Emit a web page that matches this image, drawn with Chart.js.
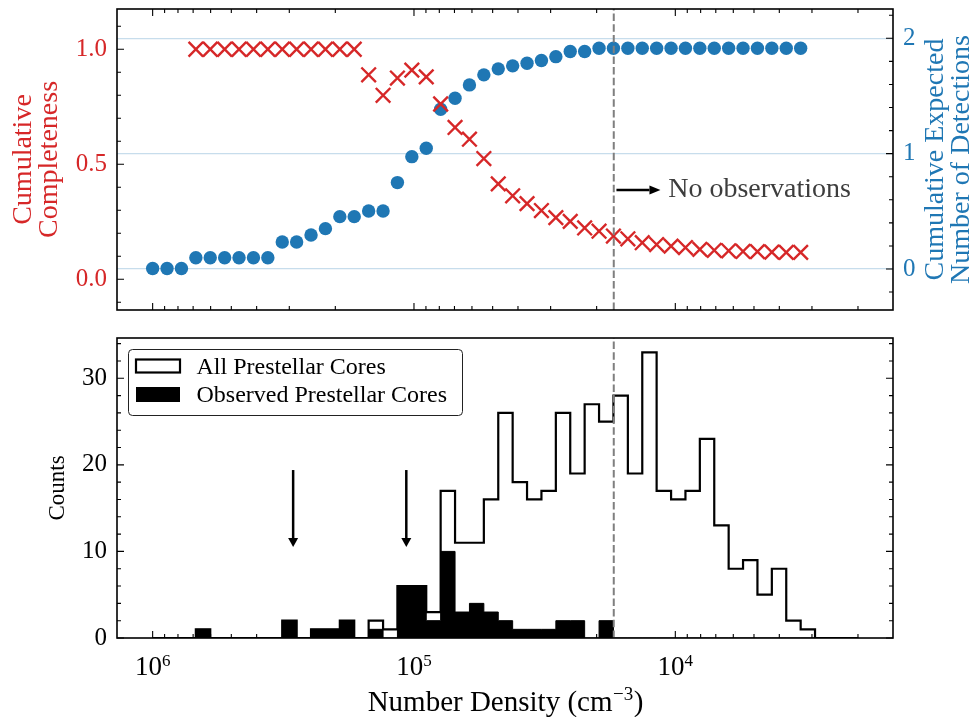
<!DOCTYPE html>
<html>
<head>
<meta charset="utf-8">
<title>Prestellar cores: completeness vs. number density</title>
<script src="https://cdn.jsdelivr.net/npm/chart.js@4.4.0/dist/chart.umd.min.js"></script>
<style>
  html, body { margin: 0; padding: 0; background: #fff; }
  #wrap { position: relative; width: 974px; height: 717px; overflow: hidden; }
  #wrap canvas { position: absolute; left: 0; }
  #topChart { top: 0; }
  #histChart { top: 325px; }
</style>
</head>
<body>
<div id="wrap">
  <canvas id="topChart" width="974" height="325"></canvas>
  <canvas id="histChart" width="974" height="392"></canvas>
</div>
<script>
// histogram bin edges in cm^-3, going from dense to diffuse
const binEdges = [1.000e6, 8.808e5, 7.759e5, 6.834e5, 6.020e5, 5.303e5, 4.671e5, 4.114e5, 3.624e5, 3.192e5,
                  2.812e5, 2.477e5, 2.182e5, 1.922e5, 1.693e5, 1.491e5, 1.313e5, 1.157e5, 1.019e5, 8.976e4,
                  7.906e4, 6.964e4, 6.134e4, 5.403e4, 4.759e4, 4.192e4, 3.693e4, 3.253e4, 2.865e4, 2.524e4,
                  2.223e4, 1.958e4, 1.725e4, 1.519e4, 1.338e4, 1.179e4, 1.038e4, 9146, 8056, 7096,
                  6250, 5506, 4850, 4272, 3763, 3314, 2920, 2572, 2265, 1995];

// cores per bin (bin i runs from binEdges[i] to binEdges[i+1])
const allCores = [0, 0, 0, 1, 0, 0, 0, 0, 0, 2, 0, 1, 1, 2, 0, 2, 1, 6, 6, 3, 17, 11, 11, 16, 26,
                  18, 16, 17, 26, 19, 27, 25, 28, 19, 33, 17, 16, 17, 23, 13, 8, 9, 5, 8, 2, 1, 0, 0, 0];
const observedCores = [0, 0, 0, 1, 0, 0, 0, 0, 0, 2, 0, 1, 1, 2, 0, 1, 0, 6, 6, 2, 10, 3, 4, 3, 2,
                       1, 1, 1, 2, 2, 0, 2, 0, 0, 0, 0, 0, 0, 0, 0, 0, 0, 0, 0, 0, 0, 0, 0, 0];

// cumulative curves, one value per bin edge starting at 1e6
const completeness = [null, null, null, 1, 1, 1, 1, 1, 1, 1, 1, 1, 1, 1, 1,
                      0.889, 0.800, 0.875, 0.909, 0.880, 0.762, 0.660, 0.609, 0.525, 0.415,
                      0.363, 0.329, 0.299, 0.268, 0.252, 0.223, 0.209, 0.188, 0.176, 0.159,
                      0.151, 0.144, 0.138, 0.130, 0.126, 0.124, 0.121, 0.120, 0.118, 0.117, 0.117];
const expectedDetections = [0.005, 0.005, 0.005, 0.098, 0.098, 0.098, 0.098, 0.098, 0.098, 0.234,
                            0.234, 0.295, 0.350, 0.454, 0.454, 0.503, 0.503, 0.749, 0.974, 1.047,
                            1.385, 1.480, 1.596, 1.683, 1.735, 1.761, 1.784, 1.807, 1.841, 1.885,
                            1.885, 1.914, 1.914, 1.914, 1.914, 1.914, 1.914, 1.914, 1.914, 1.914,
                            1.914, 1.914, 1.914, 1.914, 1.914, 1.914];

// axis ticks
const densityTicks = [1e6, 1e5, 1e4];
const completenessTicks = [0, 0.5, 1];
const completenessMinor = [-0.1, 0.1, 0.2, 0.3, 0.4, 0.6, 0.7, 0.8, 0.9, 1.1];
const detectionTicks = [0, 1, 2];
const detectionMinor = [-0.2, 0.2, 0.4, 0.6, 0.8, 1.2, 1.4, 1.6, 1.8, 2.2];
const countTicks = [0, 10, 20, 30];
const countMinor = [2, 4, 6, 8, 12, 14, 16, 18, 22, 24, 26, 28, 32, 34];

// annotations
const noObsDensity = 1.72e4;                       // dashed line: nothing observed below this
const noObsArrow = { from: 1.68e4, to: 1.14e4, y: 0.388, textAt: 1.065e4 };
const markedDensities = [2.9e5, 1.07e5];           // arrows in the histogram
const markArrow = { from: 19.4, to: 10.5 };

const RED = '#d62728', BLUE = '#1f77b4';
const SERIF = "'Liberation Serif', 'Times New Roman', serif";
const xMin = 1469, xMax = 1.369e6;

Chart.defaults.font.family = SERIF;
Chart.defaults.color = '#000';

// major + minor marks on the log axis
var logTicks = [];
for (var e = 3; e <= 6; e++) {
    for (var m = 1; m <= 9; m++) logTicks.push({ v: m * Math.pow(10, e), major: m === 1 });
}

// pin a scale to a fixed size so both panels line up
function fitBox(size) {
    return function (scale) {
        if (scale.isHorizontal()) scale.height = size; else scale.width = size;
        scale.paddingTop = scale.paddingBottom = scale.paddingLeft = scale.paddingRight = 0;
    };
}
function fixedTicks(values) {
    return function (scale) { scale.ticks = values.map(function (v) { return { value: v }; }); };
}

function rotatedText(ctx, text, x, y, font, color) {
    ctx.save();
    ctx.translate(x, y);
    ctx.rotate(-Math.PI / 2);
    ctx.font = font;
    ctx.fillStyle = color;
    ctx.textAlign = 'center';
    ctx.textBaseline = 'middle';
    ctx.fillText(text, 0, 0);
    ctx.restore();
}

function arrow(ctx, x0, y0, x1, y1, head, half) {
    var ang = Math.atan2(y1 - y0, x1 - x0);
    var bx = x1 - head * Math.cos(ang), by = y1 - head * Math.sin(ang);
    ctx.beginPath();
    ctx.moveTo(x0, y0);
    ctx.lineTo(bx, by);
    ctx.stroke();
    ctx.beginPath();
    ctx.moveTo(x1, y1);
    ctx.lineTo(bx + half * Math.sin(ang), by - half * Math.cos(ang));
    ctx.lineTo(bx - half * Math.sin(ang), by + half * Math.cos(ang));
    ctx.closePath();
    ctx.fill();
}

// box around the plot with inward ticks
var framePlugin = {
    id: 'frame',
    afterDraw: function (chart, args, opts) {
        var ctx = chart.ctx, a = chart.chartArea, xs = chart.scales.x;
        ctx.save();
        ctx.strokeStyle = '#000';
        ctx.lineWidth = 1.1;
        ctx.beginPath();
        logTicks.forEach(function (t) {
            var px = xs.getPixelForValue(t.v);
            if (px < a.left + 2 || px > a.right - 2) return;
            var len = t.major ? 7 : 4;
            if (opts.bottom) { ctx.moveTo(px, a.bottom); ctx.lineTo(px, a.bottom - len); }
            if (opts.top) { ctx.moveTo(px, a.top); ctx.lineTo(px, a.top + len); }
        });
        opts.sides.forEach(function (s) {
            var sc = chart.scales[s.axis];
            var x0 = s.right ? a.right : a.left, dir = s.right ? -1 : 1;
            s.minor.forEach(function (v) {
                var py = sc.getPixelForValue(v);
                ctx.moveTo(x0, py); ctx.lineTo(x0 + dir * 4, py);
            });
            s.major.forEach(function (v) {
                var py = sc.getPixelForValue(v);
                ctx.moveTo(x0, py); ctx.lineTo(x0 + dir * 7, py);
            });
        });
        ctx.stroke();
        ctx.lineWidth = 1.6;
        ctx.strokeRect(a.left, a.top, a.right - a.left, a.bottom - a.top);
        ctx.restore();
    }
};

// grey dashed line at the observation limit
var cutoffPlugin = {
    id: 'cutoff',
    afterDatasetsDraw: function (chart) {
        var ctx = chart.ctx, a = chart.chartArea;
        var px = chart.scales.x.getPixelForValue(noObsDensity);
        ctx.save();
        ctx.strokeStyle = '#7f7f7f';
        ctx.lineWidth = 2;
        ctx.setLineDash([7.5, 3.2]);
        ctx.beginPath();
        ctx.moveTo(px, a.bottom);
        ctx.lineTo(px, a.top);
        ctx.stroke();
        ctx.restore();
    }
};

// titles and the "no observations" note for the upper panel
var topTextPlugin = {
    id: 'topText',
    afterDraw: function (chart) {
        var ctx = chart.ctx, a = chart.chartArea, s = chart.scales;
        var cy = (a.top + a.bottom) / 2;
        var font = '28px ' + SERIF;
        rotatedText(ctx, 'Cumulative', 23.5, cy, font, RED);
        rotatedText(ctx, 'Completeness', 50, cy, font, RED);
        rotatedText(ctx, 'Cumulative Expected', 936, cy, font, BLUE);
        rotatedText(ctx, 'Number of Detections', 962, cy, font, BLUE);

        var ay = s.y.getPixelForValue(noObsArrow.y);
        ctx.save();
        ctx.strokeStyle = '#000';
        ctx.fillStyle = '#000';
        ctx.lineWidth = 2.5;
        arrow(ctx, s.x.getPixelForValue(noObsArrow.from), ay, s.x.getPixelForValue(noObsArrow.to), ay, 11, 4.5);
        ctx.font = '28px ' + SERIF;
        ctx.fillStyle = '#3d3d3d';
        ctx.textAlign = 'left';
        ctx.textBaseline = 'alphabetic';
        ctx.fillText('No observations', s.x.getPixelForValue(noObsArrow.textAt), ay + 7);
        ctx.restore();
    }
};

// legend, arrows and axis labels for the histogram
var histTextPlugin = {
    id: 'histText',
    afterDraw: function (chart) {
        var ctx = chart.ctx, a = chart.chartArea, xs = chart.scales.x, ys = chart.scales.y;
        ctx.save();
        ctx.fillStyle = '#000';
        ctx.strokeStyle = '#000';

        // marker arrows
        ctx.lineWidth = 2.5;
        markedDensities.forEach(function (d) {
            var px = xs.getPixelForValue(d);
            arrow(ctx, px, ys.getPixelForValue(markArrow.from), px, ys.getPixelForValue(markArrow.to), 9, 5);
        });

        // legend
        var bx = a.left + 11, by = a.top + 11, bw = 334, bh = 66;
        ctx.fillStyle = '#fff';
        ctx.strokeStyle = '#222';
        ctx.lineWidth = 1;
        ctx.beginPath();
        ctx.roundRect(bx + 0.5, by + 0.5, bw, bh, 4);
        ctx.fill();
        ctx.stroke();
        ctx.font = '24px ' + SERIF;
        ctx.textAlign = 'left';
        ctx.textBaseline = 'alphabetic';
        chart.data.datasets.forEach(function (ds, i) {
            var sy = by + 9.5 + i * 28.5;
            if (ds.fill) {
                ctx.fillStyle = '#000';
                ctx.fillRect(bx + 8, sy, 44, 15);
            } else {
                ctx.strokeStyle = '#000';
                ctx.lineWidth = 2.2;
                ctx.strokeRect(bx + 8, sy + 1, 44, 13);
            }
            ctx.fillStyle = '#000';
            ctx.fillText(ds.label, bx + 68.5, sy + 15);
        });

        // x tick labels as powers of ten
        densityTicks.forEach(function (v) {
            var px = xs.getPixelForValue(v);
            var exp = String(Math.round(Math.log10(v)));
            ctx.font = '27px ' + SERIF;
            var w1 = ctx.measureText('10').width;
            ctx.font = '17px ' + SERIF;
            var w2 = ctx.measureText(exp).width;
            var x0 = px - (w1 + w2) / 2;
            ctx.font = '27px ' + SERIF;
            ctx.fillText('10', x0, a.bottom + 37);
            ctx.font = '17px ' + SERIF;
            ctx.fillText(exp, x0 + w1, a.bottom + 27.5);
        });

        // x axis title
        var big = '29px ' + SERIF, small = '19px ' + SERIF;
        ctx.font = big;
        var t1 = 'Number Density (cm', t3 = ')';
        var w1 = ctx.measureText(t1).width, w3 = ctx.measureText(t3).width;
        ctx.font = small;
        var w2 = ctx.measureText('\u22123').width;
        var tx = (a.left + a.right) / 2 - (w1 + w2 + w3) / 2, ty = a.bottom + 73;
        ctx.font = big;
        ctx.fillText(t1, tx, ty);
        ctx.fillText(t3, tx + w1 + w2 + 1, ty);
        ctx.font = small;
        ctx.fillText('\u22123', tx + w1 + 0.5, ty - 11);
        ctx.restore();

        rotatedText(ctx, 'Counts', 58, (a.top + a.bottom) / 2, '23px ' + SERIF, '#000');
    }
};

var noGrid = { display: false, drawTicks: false };

// upper panel: cumulative completeness and expected detections
var completenessPts = [], detectionPts = [];
expectedDetections.forEach(function (v, i) {
    detectionPts.push({ x: binEdges[i], y: v });
    if (completeness[i] !== null) completenessPts.push({ x: binEdges[i], y: completeness[i] });
});

new Chart(document.getElementById('topChart'), {
    type: 'scatter',
    data: {
        datasets: [{
            label: 'Cumulative Completeness',
            data: completenessPts,
            yAxisID: 'y',
            pointStyle: 'crossRot',
            pointRadius: 10.3,
            borderWidth: 2.4,
            pointBorderWidth: 2.4,
            borderColor: RED,
            backgroundColor: RED,
            order: 0
        }, {
            label: 'Cumulative Expected Number of Detections',
            data: detectionPts,
            yAxisID: 'y2',
            pointStyle: 'circle',
            pointRadius: 6.7,
            borderWidth: 0,
            pointBorderWidth: 0,
            backgroundColor: BLUE,
            order: 1
        }]
    },
    options: {
        responsive: false,
        animation: false,
        devicePixelRatio: 1,
        events: [],
        layout: { padding: { top: 9, left: 0, right: 0, bottom: 0 }, autoPadding: false },
        plugins: {
            legend: { display: false },
            tooltip: { enabled: false },
            frame: {
                top: true, bottom: true,
                sides: [
                    { axis: 'y', major: completenessTicks, minor: completenessMinor },
                    { axis: 'y2', right: true, major: detectionTicks, minor: detectionMinor }
                ]
            }
        },
        scales: {
            x: {
                type: 'logarithmic', reverse: true, min: xMin, max: xMax,
                grid: noGrid, border: { display: false }, ticks: { display: false },
                afterFit: fitBox(15)
            },
            y: {
                position: 'left', min: -0.1335, max: 1.175,
                grid: noGrid, border: { display: false },
                afterBuildTicks: fixedTicks(completenessTicks),
                ticks: { color: RED, font: { size: 25 }, padding: 10, autoSkip: false,
                         callback: function (v) { return v.toFixed(1); } },
                afterFit: fitBox(117)
            },
            y2: {
                position: 'right', min: -0.3554, max: 2.254,
                grid: { color: 'rgba(31,119,180,0.25)', lineWidth: 1.3, drawTicks: false },
                border: { display: false },
                afterBuildTicks: fixedTicks(detectionTicks),
                ticks: { color: BLUE, font: { size: 25 }, padding: 10, autoSkip: false,
                         callback: function (v) { return String(v); } },
                afterFit: fitBox(81)
            }
        }
    },
    plugins: [cutoffPlugin, framePlugin, topTextPlugin]
});

// lower panel: step histograms, one point per bin edge
function stepPoints(counts) {
    return binEdges.map(function (x, i) {
        return { x: x, y: i < counts.length ? counts[i] : 0 };
    });
}

new Chart(document.getElementById('histChart'), {
    type: 'line',
    data: {
        datasets: [{
            label: 'All Prestellar Cores',
            data: stepPoints(allCores),
            stepped: true,
            fill: false,
            borderColor: '#000',
            borderWidth: 2.2,
            pointRadius: 0,
            order: 1
        }, {
            label: 'Observed Prestellar Cores',
            data: stepPoints(observedCores),
            stepped: true,
            fill: 'origin',
            borderColor: '#000',
            backgroundColor: '#000',
            borderWidth: 1,
            pointRadius: 0,
            order: 0
        }]
    },
    options: {
        responsive: false,
        animation: false,
        devicePixelRatio: 1,
        events: [],
        layout: { padding: { top: 13, left: 0, right: 81, bottom: 0 }, autoPadding: false },
        plugins: {
            legend: { display: false },
            tooltip: { enabled: false },
            frame: {
                top: false, bottom: true,
                sides: [
                    { axis: 'y', major: countTicks, minor: countMinor },
                    { axis: 'y', right: true, major: countTicks, minor: countMinor }
                ]
            }
        },
        scales: {
            x: {
                type: 'logarithmic', reverse: true, min: xMin, max: xMax,
                grid: noGrid, border: { display: false }, ticks: { display: false },
                afterFit: fitBox(79)
            },
            y: {
                min: 0, max: 34.65,
                grid: noGrid, border: { display: false },
                afterBuildTicks: fixedTicks(countTicks),
                ticks: { font: { size: 25 }, padding: 10, autoSkip: false,
                         callback: function (v) { return String(v); } },
                afterFit: fitBox(117)
            }
        }
    },
    plugins: [cutoffPlugin, framePlugin, histTextPlugin]
});
</script>
</body>
</html>
